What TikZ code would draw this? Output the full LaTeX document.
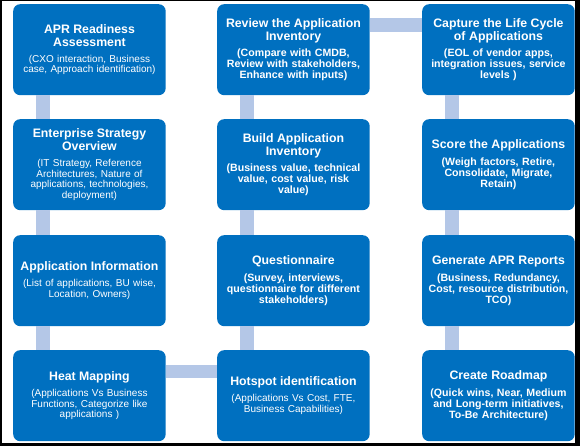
\documentclass[tikz,border=0pt]{standalone}
\usepackage{fontspec}
\setmainfont{Liberation Sans}
\newcommand\aprtitle{\bfseries\fontsize{12.3}{13}\selectfont}
\newcommand\aprsubr{\mdseries\fontsize{10}{10.5}\selectfont}
\newcommand\aprsubb{\bfseries\fontsize{10.6}{11}\selectfont}
\newcommand\boxtxt[2]{{\aprtitle #1\par}\vskip5.5pt #2}
\definecolor{boxblue}{RGB}{0,112,192}
\definecolor{barblue}{RGB}{180,199,231}
\tikzset{
  stepbox/.style={anchor=north west, fill=boxblue, rounded corners=7pt,
    minimum width=152.5pt, minimum height=91pt, text width=148pt,
    inner xsep=2pt, inner ysep=0pt, align=center, text=white, font=\aprsubr},
  stepboxb/.style={stepbox, font=\aprsubb},
  bar/.style={draw=barblue, line width=13.5pt},
}
\begin{document}
\begin{tikzpicture}[x=1pt,y=-1pt]
\fill[black] (0,0) rectangle (580,446);
\fill[white] (2,1) rectangle (575,443);
\useasboundingbox (0,0) rectangle (580,446);
% column 1
\node[stepbox] (apr) at (13,4) {\boxtxt{APR Readiness\\Assessment}{(CXO interaction, Business\\case, Approach identification)}};
\node[stepbox] (ent) at (13,119) {\boxtxt{Enterprise Strategy\\Overview}{(IT Strategy, Reference\\Architectures, Nature of\\applications, technologies,\\deployment)}};
\node[stepbox] (info) at (13,235) {\boxtxt{Application Information}{(List of applications, BU wise,\\Location, Owners)}};
\node[stepbox] (heat) at (13,350) {\boxtxt{Heat Mapping}{(Applications Vs Business\\Functions, Categorize like\\applications )}};
% column 2
\node[stepboxb] (review) at (217,4) {\boxtxt{Review the Application\\Inventory}{(Compare with CMDB,\\Review with stakeholders,\\Enhance with inputs)}};
\node[stepboxb] (build) at (217,119) {\boxtxt{Build Application\\Inventory}{(Business value, technical\\value, cost value, risk\\value)}};
\node[stepboxb] (quest) at (217,235) {\boxtxt{Questionnaire}{(Survey, interviews,\\questionnaire for different\\stakeholders)}};
\node[stepbox] (hot) at (217,350) {\boxtxt{Hotspot identification}{(Applications Vs Cost, FTE,\\Business Capabilities)}};
% column 3
\node[stepboxb] (capture) at (422,4) {\boxtxt{Capture the Life Cycle\\of Applications}{(EOL of vendor apps,\\integration issues, service\\levels )}};
\node[stepboxb] (score) at (422,119) {\boxtxt{Score the Applications}{(Weigh factors, Retire,\\Consolidate, Migrate,\\Retain)}};
\node[stepboxb] (gen) at (422,235) {\boxtxt{Generate APR Reports}{(Business, Redundancy,\\Cost, resource distribution,\\TCO)}};
\node[stepboxb] (road) at (422,350) {\boxtxt{Create Roadmap}{(Quick wins, Near, Medium\\and Long-term initiatives,\\To-Be Architecture)}};
% connectors
\draw[bar] ([xshift=30pt]apr.south west) -- ([xshift=30pt]ent.north west);
\draw[bar] ([xshift=30pt]ent.south west) -- ([xshift=30pt]info.north west);
\draw[bar] ([xshift=30pt]info.south west) -- ([xshift=30pt]heat.north west);
\draw[bar] ([yshift=-21.5pt]heat.north east) -- ([yshift=-21.5pt]hot.north west);
\draw[bar] ([xshift=30pt]hot.north west) -- ([xshift=30pt]quest.south west);
\draw[bar] ([xshift=30pt]quest.north west) -- ([xshift=30pt]build.south west);
\draw[bar] ([xshift=30pt]build.north west) -- ([xshift=30pt]review.south west);
\draw[bar] ([yshift=-21pt]review.north east) -- ([yshift=-21pt]capture.north west);
\draw[bar] ([xshift=30pt]capture.south west) -- ([xshift=30pt]score.north west);
\draw[bar] ([xshift=30pt]score.south west) -- ([xshift=30pt]gen.north west);
\draw[bar] ([xshift=30pt]gen.south west) -- ([xshift=30pt]road.north west);
\end{tikzpicture}
\end{document}
